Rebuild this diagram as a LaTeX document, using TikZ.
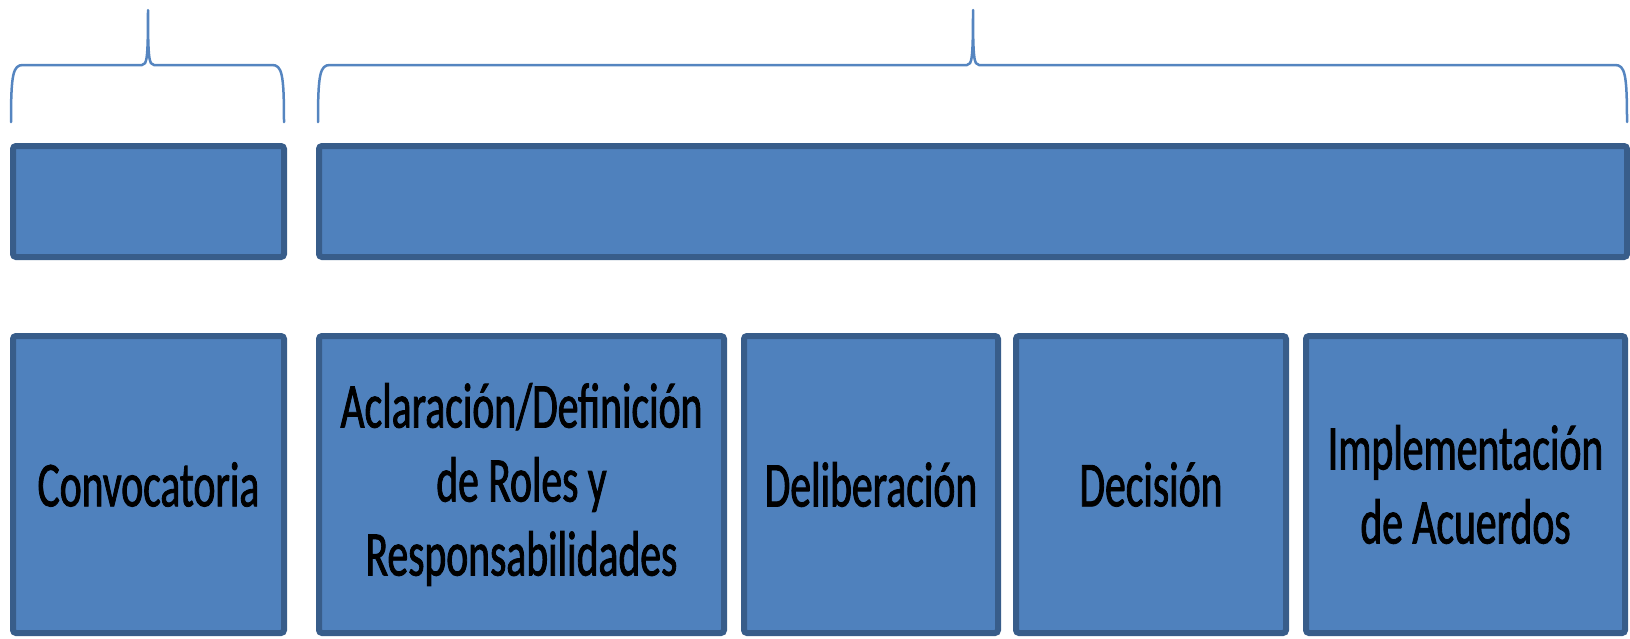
\documentclass[tikz,border=0pt]{standalone}
\usepackage{fontspec}
\setmainfont{Carlito}[FakeStretch=0.65, FakeBold=1.3]
\usetikzlibrary{positioning}

\definecolor{boxfill}{HTML}{4F81BD}
\definecolor{boxline}{HTML}{385D8A}
\definecolor{bracecol}{HTML}{5585C0}

\begin{document}
\begin{tikzpicture}
% Style
[
    x=1pt, y=1pt,
    bar/.style={
        draw=boxline, fill=boxfill, line width=6pt, rounded corners=3pt,
        shape=rectangle, minimum height=111pt
    },
    step box/.style={
        bar, minimum height=297pt, align=center, inner sep=4pt,
        font=\fontsize{64}{74}\selectfont
    },
    curly/.style={draw=bracecol, line width=2.5pt, line cap=round, line join=round}
]
\useasboundingbox (0,0) rectangle (1630,-638);

%=================================== Start ===================================
{
    % upper bars
    \node[bar, minimum width=271pt, anchor=north west] (bar-conv) at (10,-143) {};
    \node[bar, minimum width=1308pt, right=29pt of bar-conv] (bar-main) {};

    % lower steps
    \node[step box, minimum width=271pt, anchor=north west] (conv) at (10,-333) {Convocatoria};
    \node[step box, minimum width=405pt, right=29pt of conv] (acl)
        {Aclaración/Definición\\de Roles y\\Responsabilidades};
    \node[step box, minimum width=254pt, right=14pt of acl] (delib) {Deliberación};
    \node[step box, minimum width=270pt, right=12pt of delib] (dec) {Decisión};
    \node[step box, minimum width=319pt, right=14pt of dec] (impl)
        {Implementación\\de Acuerdos};

    % braces over the bars
    \foreach \xa/\xt/\xb in {11/148/284, 318/973/1627} {
        \draw[curly] (\xa,-122) .. controls (\xa,-74) and (\xa+2,-65) .. (\xa+12,-65)
            -- (\xt-6,-65) .. controls (\xt-1,-65) and (\xt,-58) .. (\xt,-10)
            .. controls (\xt,-58) and (\xt+1,-65) .. (\xt+6,-65)
            -- (\xb-12,-65) .. controls (\xb-2,-65) and (\xb,-74) .. (\xb,-122);
    }
}
%==================================== END ====================================

\end{tikzpicture}
\end{document}
